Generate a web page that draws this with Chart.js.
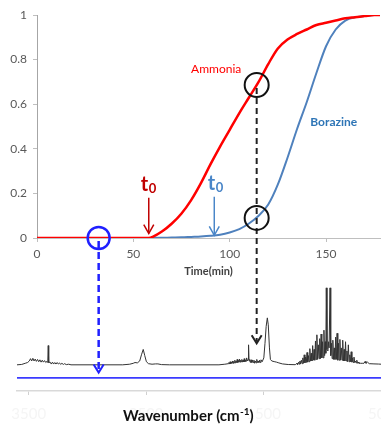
<!DOCTYPE html>
<html>
<head>
<meta charset="utf-8">
<script src="https://cdn.jsdelivr.net/npm/chart.js@4.4.1/dist/chart.umd.min.js"></script>
<style>
  body { margin: 0; background: #fff; }
  #wrap { position: relative; width: 381px; height: 424px; overflow: hidden; }
  canvas { position: absolute; left: 0; }
</style>
</head>
<body>
<div id="wrap">
  <canvas id="kinetics" width="381" height="285" style="top:0"></canvas>
  <canvas id="spectrum" width="381" height="144" style="top:280px"></canvas>
  <canvas id="overlay" width="381" height="424" style="top:0"></canvas>
</div>
<script>
// --- kinetics (top) ---
const times    = [0, 5, 10, 15, 20, 25, 30, 35, 40, 45, 50, 55, 58, 60, 65, 70, 75, 80, 85, 90, 95, 100, 105, 110, 115, 120, 125, 130, 135, 140, 145, 150, 155, 160, 165, 170, 175, 178];
const ammonia  = [0, 0, 0, 0, 0, 0, 0, 0, 0, 0, 0, 0, 0, 0.005, 0.03, 0.065, 0.11, 0.17, 0.245, 0.33, 0.41, 0.485, 0.56, 0.63, 0.70, 0.78, 0.85, 0.89, 0.915, 0.935, 0.955, 0.965, 0.975, 0.985, 0.99, 0.995, 1.0, 1.0];
const borazine = [0, 0, 0, 0, 0, 0, 0, 0, 0, 0, 0, 0, 0, 0, 0.001, 0.002, 0.003, 0.005, 0.007, 0.01, 0.015, 0.025, 0.04, 0.065, 0.10, 0.15, 0.24, 0.36, 0.49, 0.61, 0.74, 0.86, 0.935, 0.975, 0.99, 0.995, 1.0, 1.0];
const timeTicks = [0, 50, 100, 150];
const fracTicks = [0, 0.2, 0.4, 0.6, 0.8, 1];

// --- IR spectrum (bottom): [wavenumber, absorbance] ---
const specPoints = [
  [3600, 0], [3560, 0.005], [3530, 0.02], [3510, 0.03], [3495, 0.05], [3485, 0.08], [3475, 0.05], [3465, 0.085], [3455, 0.05],
  [3445, 0.075], [3435, 0.045], [3425, 0.07], [3415, 0.04], [3405, 0.065], [3395, 0.035], [3385, 0.06], [3375, 0.035],
  [3365, 0.055], [3355, 0.03], [3345, 0.045], [3338, 0.03], [3334, 0.25], [3330, 0.03], [3318, 0.035], [3308, 0.01],
  [3298, 0.035], [3288, 0.01], [3278, 0.03], [3268, 0.01], [3258, 0.03], [3248, 0.01], [3238, 0.025], [3228, 0.005],
  [3218, 0.02], [3205, 0.005], [3195, 0.015], [3180, 0.003], [3160, 0.008], [3140, 0], [2700, 0],
  [2640, 0.008], [2610, 0.02], [2595, 0.03], [2575, 0.025], [2555, 0.05], [2540, 0.13], [2525, 0.2], [2512, 0.12],
  [2498, 0.04], [2480, 0.015], [2450, 0.008], [2420, 0.012], [2400, 0.012], [2370, 0.003], [2300, 0], [1880, 0],
  [1830, 0.008], [1800, 0.015], [1795, 0.03], [1790, 0.01], [1785, 0.04], [1780, 0.015], [1775, 0.035], [1770, 0.02],
  [1765, 0.05], [1760, 0.02], [1755, 0.045], [1750, 0.025], [1745, 0.06], [1740, 0.025], [1735, 0.05], [1730, 0.03],
  [1725, 0.07], [1720, 0.03], [1715, 0.055], [1710, 0.035], [1705, 0.075], [1700, 0.035], [1695, 0.06], [1690, 0.04],
  [1685, 0.07], [1680, 0.035], [1675, 0.06], [1670, 0.04], [1665, 0.08], [1660, 0.04], [1655, 0.06], [1650, 0.045],
  [1644, 0.09], [1638, 0.05], [1632, 0.07], [1628, 0.26], [1624, 0.05], [1618, 0.07], [1612, 0.03], [1606, 0.065],
  [1600, 0.03], [1594, 0.06], [1588, 0.03], [1582, 0.06], [1576, 0.02], [1570, 0.05], [1564, 0.025], [1558, 0.07],
  [1552, 0.03], [1546, 0.05], [1540, 0.03], [1534, 0.06], [1528, 0.03], [1522, 0.065], [1512, 0.04],
  [1498, 0.09], [1488, 0.28], [1478, 0.5], [1468, 0.61], [1460, 0.52], [1450, 0.22], [1442, 0.07], [1430, 0.05],
  [1410, 0.042], [1390, 0.035], [1370, 0.025], [1340, 0.012], [1290, 0.004], [1230, 0.002],
  [1215, 0.02], [1210, 0.004], [1200, 0.035], [1195, 0.008], [1190, 0.05], [1185, 0.01], [1178, 0.06], [1172, 0.015],
  [1166, 0.09], [1160, 0.02], [1154, 0.13], [1148, 0.025], [1142, 0.1], [1136, 0.03], [1130, 0.16], [1124, 0.035],
  [1118, 0.12], [1112, 0.04], [1106, 0.21], [1100, 0.05], [1094, 0.15], [1088, 0.05], [1082, 0.25], [1076, 0.06],
  [1070, 0.2], [1064, 0.06], [1058, 0.31], [1052, 0.07], [1046, 0.39], [1040, 0.07], [1034, 0.26], [1028, 0.08],
  [1022, 0.34], [1016, 0.08], [1010, 0.4], [1004, 0.09], [998, 0.3], [992, 0.09], [986, 0.45], [980, 0.12],
  [974, 0.3], [970, 0.15], [966, 1.0], [960, 0.2], [952, 0.18], [946, 0.3], [942, 0.22], [934, 1.0], [928, 0.12],
  [922, 0.28], [916, 0.08], [910, 0.32], [904, 0.07], [898, 0.22], [892, 0.07], [886, 0.36], [880, 0.07],
  [874, 0.41], [868, 0.06], [862, 0.28], [856, 0.06], [850, 0.33], [844, 0.06], [838, 0.22], [832, 0.06],
  [826, 0.32], [820, 0.05], [814, 0.2], [808, 0.05], [802, 0.3], [796, 0.05], [790, 0.18], [784, 0.04],
  [778, 0.26], [772, 0.04], [766, 0.13], [760, 0.04], [754, 0.17], [748, 0.035], [742, 0.09], [736, 0.03],
  [730, 0.1], [724, 0.03], [718, 0.05], [712, 0.025], [706, 0.06], [700, 0.02], [694, 0.035], [688, 0.02],
  [676, 0.02], [660, 0.02], [645, 0.02], [635, 0.045], [628, 0.02], [615, 0.035], [600, 0.015], [560, 0.012],
  [520, 0.01], [500, 0.008]
];
const blankWn  = [3600, 500];
const blankAbs = [-0.17, -0.17];
const wnTicks  = [3500, 2500, 1500, 500];

// --- annotations ---
const markTime = 114, ammoniaMark = 0.686, borazineMark = 0.09;
const blankTime = 32;
const ammoniaT0 = 58, borazineT0 = 92;

const FONT = 'Lato, "Open Sans", sans-serif';
const pts = (xs, ys) => xs.map((x, i) => ({ x: x, y: ys[i] }));

const kin = new Chart(document.getElementById('kinetics'), {
  type: 'line',
  data: {
    datasets: [
      { label: 'Ammonia', data: pts(times, ammonia), borderColor: '#ff0000', borderWidth: 2.5, pointRadius: 0, cubicInterpolationMode: 'monotone' },
      { label: 'Borazine', data: pts(times, borazine), borderColor: '#4f81bd', borderWidth: 2, pointRadius: 0, cubicInterpolationMode: 'monotone' }
    ]
  },
  options: {
    responsive: false,
    animation: false,
    events: [],
    layout: { padding: { left: 0, right: 1, top: 15, bottom: 7 } },
    plugins: { legend: { display: false }, tooltip: { enabled: false } },
    scales: {
      x: {
        type: 'linear', min: 0, max: 178,
        afterFit: s => { s.height = 40; s.paddingLeft = 0; s.paddingRight = 0; },
        afterBuildTicks: s => { s.ticks = timeTicks.map(v => ({ value: v })); },
        grid: { drawOnChartArea: false, tickLength: 4, color: '#bfbfbf' },
        border: { color: '#bfbfbf', width: 1 },
        ticks: { color: '#595959', font: { family: FONT, size: 12 }, padding: 5, maxRotation: 0, callback: v => String(v) },
        title: { display: true, text: 'Time(min)', color: '#404040', font: { family: FONT, size: 11, weight: 'bold' }, padding: { top: 0, bottom: 0 } }
      },
      y: {
        min: 0, max: 1,
        afterFit: s => { s.width = 37; },
        afterBuildTicks: s => { s.ticks = fracTicks.map(v => ({ value: v })); },
        grid: { drawOnChartArea: false, tickLength: 4, color: '#bfbfbf' },
        border: { color: '#a6a6a6', width: 1 },
        ticks: { color: '#595959', font: { family: FONT, size: 12 }, padding: 6, callback: v => String(v) }
      }
    }
  }
});

const spec = new Chart(document.getElementById('spectrum'), {
  type: 'line',
  data: {
    datasets: [
      { label: 'spectrum', data: specPoints.map(p => ({ x: p[0], y: p[1] })), borderColor: '#333', borderWidth: 1, pointRadius: 0, tension: 0 },
      { label: 'blank', data: pts(blankWn, blankAbs), borderColor: '#3b3bff', borderWidth: 1.8, pointRadius: 0 }
    ]
  },
  options: {
    responsive: false,
    animation: false,
    events: [],
    layout: { padding: { left: 17, right: 0, top: 4, bottom: 0 } },
    plugins: { legend: { display: false }, tooltip: { enabled: false } },
    scales: {
      x: {
        type: 'linear', min: 500, max: 3600, reverse: true,
        afterFit: s => { s.height = 33; s.paddingLeft = 0; s.paddingRight = 0; },
        afterBuildTicks: s => { s.ticks = wnTicks.map(v => ({ value: v })); },
        grid: { drawOnChartArea: false, tickLength: 4, color: '#d0d0d0' },
        border: { color: '#d9d9d9', width: 1.5 },
        ticks: { color: '#f5f5f5', font: { family: FONT, size: 15 }, padding: 10, maxRotation: 0, callback: v => String(v) }
      },
      y: { display: false, min: -0.34, max: 1.05 }
    }
  }
});

function chevron(ctx, x, tip, w, h) {
  ctx.setLineDash([]);
  ctx.beginPath();
  ctx.moveTo(x - w, tip - h);
  ctx.lineTo(x, tip);
  ctx.lineTo(x + w, tip - h);
  ctx.stroke();
}

function tLabel(ctx, x, y, color) {
  ctx.fillStyle = color;
  ctx.textBaseline = 'alphabetic';
  ctx.font = 'bold 20px ' + FONT;
  ctx.textAlign = 'right';
  ctx.fillText('t', x, y);
  ctx.font = 'bold 13px ' + FONT;
  ctx.textAlign = 'left';
  ctx.fillText('0', x + 0.5, y + 2);
}

function drawOverlay() {
  const ctx = document.getElementById('overlay').getContext('2d');
  const specCanvas = document.getElementById('spectrum');
  const offY = specCanvas.offsetTop;
  const kx = v => kin.scales.x.getPixelForValue(v);
  const ky = v => kin.scales.y.getPixelForValue(v);
  const sy = v => spec.scales.y.getPixelForValue(v) + offY;
  ctx.lineCap = 'butt';

  // series labels
  ctx.textAlign = 'center';
  ctx.textBaseline = 'middle';
  ctx.fillStyle = '#ff0000';
  ctx.font = '12px ' + FONT;
  ctx.fillText('Ammonia', kx(93), ky(0.758));
  ctx.fillStyle = '#2e75b6';
  ctx.font = 'bold 12px ' + FONT;
  ctx.fillText('Borazine', kx(154), ky(0.52));

  // spectrum axis title with superscript
  const main = 'Wavenumber (cm', sup = '-1', close = ')';
  ctx.fillStyle = '#111';
  ctx.textBaseline = 'alphabetic';
  ctx.textAlign = 'left';
  ctx.font = 'bold 15px ' + FONT;
  const wMain = ctx.measureText(main).width, wClose = ctx.measureText(close).width;
  ctx.font = 'bold 10px ' + FONT;
  const wSup = ctx.measureText(sup).width;
  const cx = spec.chartArea.left + (spec.chartArea.right - spec.chartArea.left) * 0.47;
  const tx = cx - (wMain + wSup + wClose) / 2, ty = offY + spec.chartArea.bottom + 30;
  ctx.font = 'bold 15px ' + FONT;
  ctx.fillText(main, tx, ty);
  ctx.fillText(close, tx + wMain + wSup + 0.5, ty);
  ctx.font = 'bold 10px ' + FONT;
  ctx.fillText(sup, tx + wMain + 0.5, ty - 6);

  // t0 arrows
  ctx.lineWidth = 1.5;
  ctx.strokeStyle = '#c00000';
  let x = kx(ammoniaT0);
  ctx.beginPath(); ctx.moveTo(x, ky(0.18)); ctx.lineTo(x, ky(0.02)); ctx.stroke();
  chevron(ctx, x, ky(0.02), 5, 9);
  tLabel(ctx, x - 0.5, ky(0.21), '#c00000');

  ctx.strokeStyle = '#4a86c8';
  x = kx(borazineT0);
  ctx.beginPath(); ctx.moveTo(x, ky(0.185)); ctx.lineTo(x, ky(0.012)); ctx.stroke();
  chevron(ctx, x, ky(0.012), 5, 9);
  tLabel(ctx, x + 1, ky(0.215), '#4a86c8');

  // black dashed link
  x = kx(markTime);
  ctx.strokeStyle = '#222';
  ctx.lineWidth = 2;
  ctx.setLineDash([6, 4]);
  ctx.beginPath(); ctx.moveTo(x, ky(ammoniaMark) + 3); ctx.lineTo(x, sy(0.28) - 2); ctx.stroke();
  chevron(ctx, x, sy(0.28), 5, 8);

  // circles
  ctx.setLineDash([]);
  ctx.lineWidth = 2;
  ctx.strokeStyle = '#111';
  [ammoniaMark, borazineMark].forEach(v => {
    ctx.beginPath(); ctx.arc(x, ky(v), 12, 0, Math.PI * 2); ctx.stroke();
  });

  // blue dashed link
  x = kx(blankTime);
  ctx.strokeStyle = '#2020ff';
  ctx.lineWidth = 2.5;
  ctx.beginPath(); ctx.arc(x, ky(0), 11, 0, Math.PI * 2); ctx.stroke();
  ctx.setLineDash([7, 4]);
  ctx.beginPath(); ctx.moveTo(x, ky(0) + 3); ctx.lineTo(x, sy(-0.1) - 2); ctx.stroke();
  ctx.lineWidth = 2;
  chevron(ctx, x, sy(-0.1), 5, 8);
}

drawOverlay();
</script>
</body>
</html>
